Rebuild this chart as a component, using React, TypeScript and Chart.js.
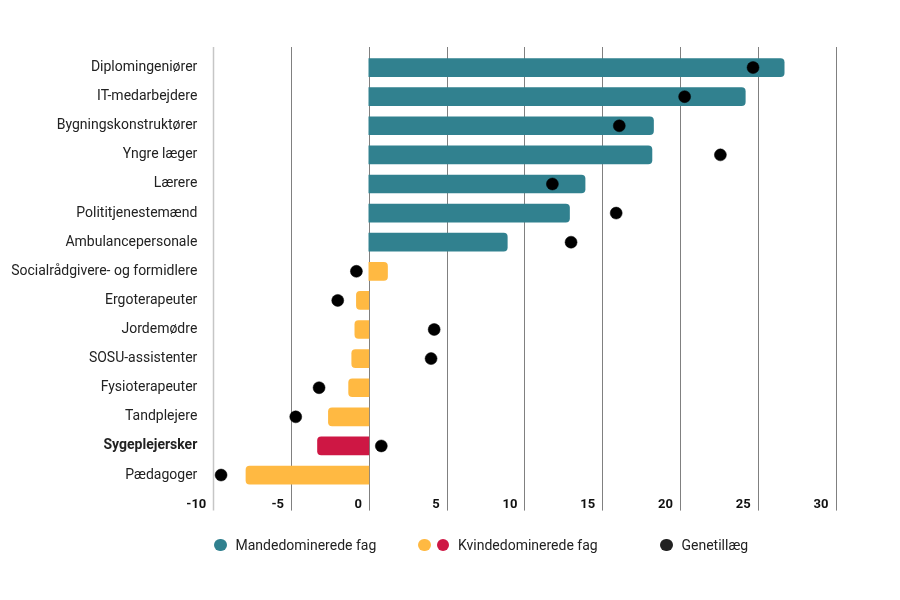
import React, { useEffect, useRef } from "react";
import { Chart, registerables } from "chart.js";

Chart.register(...registerables);

const categories = [
  "Diplomingeniører",
  "IT-medarbejdere",
  "Bygningskonstruktører",
  "Yngre læger",
  "Lærere",
  "Polititjenestemænd",
  "Ambulancepersonale",
  "Socialrådgivere- og formidlere",
  "Ergoterapeuter",
  "Jordemødre",
  "SOSU-assistenter",
  "Fysioterapeuter",
  "Tandplejere",
  "Sygeplejersker",
  "Pædagoger",
];

// group: m = mandedomineret, k = kvindedomineret, s = sygeplejersker (highlighted)
const groups = ["m", "m", "m", "m", "m", "m", "m", "k", "k", "k", "k", "k", "k", "s", "k"];

const barValues = [26.7, 24.2, 18.3, 18.2, 13.9, 12.9, 8.9, 1.2, -0.8, -0.9, -1.1, -1.3, -2.6, -3.3, -7.9];

const genetillaeg = [24.7, 20.3, 16.1, 22.6, 11.8, 15.9, 13.0, -0.8, -2.0, 4.2, 4.0, -3.2, -4.7, 0.8, -9.5];

const xTickValues = [-10, -5, 0, 5, 10, 15, 20, 25, 30];

const boldCategory = "Sygeplejersker";

const legendItems = [
  { label: "Mandedominerede fag", colors: ["#31818f"] },
  { label: "Kvindedominerede fag", colors: ["#ffb942", "#ce1744"] },
  { label: "Genetillæg", colors: ["#222222"] },
];

const colorFor: Record<string, string> = {
  m: "#31818f",
  k: "#ffb942",
  s: "#ce1744",
};

const FONT = "Roboto, 'Noto Sans', sans-serif";

const gridPlugin = {
  id: "customGrid",
  beforeDatasetsDraw(chart: any) {
    const { ctx, chartArea, scales } = chart;
    const x = scales.x;
    ctx.save();
    xTickValues.forEach((v, i) => {
      const px = Math.round(x.getPixelForValue(v)) + 0.5;
      ctx.strokeStyle = i === 0 ? "#c6c6c6" : "#808080";
      ctx.lineWidth = i === 0 ? 1.5 : 1;
      ctx.beginPath();
      ctx.moveTo(px, chartArea.top - 6);
      ctx.lineTo(px, chartArea.bottom + 21);
      ctx.stroke();
    });
    ctx.restore();
  },
};

export default function App() {
  const canvasRef = useRef<HTMLCanvasElement | null>(null);

  useEffect(() => {
    if (!canvasRef.current) return;
    const chart = new Chart(canvasRef.current, {
      type: "bar",
      data: {
        labels: categories,
        datasets: [
          {
            type: "line",
            label: "Genetillæg",
            data: genetillaeg,
            indexAxis: "y",
            showLine: false,
            pointRadius: 6,
            pointHoverRadius: 6,
            pointBackgroundColor: "#000000",
            pointBorderColor: "#000000",
            pointBorderWidth: 0.5,
            order: 0,
          } as any,
          {
            type: "bar",
            label: "Fag",
            data: barValues,
            backgroundColor: groups.map((g) => colorFor[g]),
            borderWidth: 0,
            borderRadius: 4,
            borderSkipped: "start",
            barThickness: 18,
            order: 1,
          } as any,
        ],
      },
      options: {
        indexAxis: "y",
        responsive: false,
        animation: false,
        devicePixelRatio: 1,
        layout: {
          padding: { top: 53, right: 64.5, left: 0, bottom: 80.4 },
        },
        plugins: {
          legend: { display: false },
          tooltip: { enabled: false },
        },
        scales: {
          x: {
            type: "linear",
            min: -10,
            max: 30,
            afterBuildTicks: (scale: any) => {
              scale.ticks = xTickValues.map((v) => ({ value: v }));
            },
            afterFit: (scale: any) => {
              scale.height = 30;
            },
            grid: { display: false, drawTicks: false },
            border: { display: false },
            ticks: {
              align: "end",
              labelOffset: -7,
              padding: 7,
              color: "#111111",
              font: { family: FONT, size: 13, weight: "bold" },
              maxRotation: 0,
            },
          },
          y: {
            type: "category",
            afterFit: (scale: any) => {
              scale.width = 213.3;
            },
            grid: { display: false, drawTicks: false },
            border: { display: false },
            ticks: {
              padding: 16,
              color: "#222222",
              font: (ctx: any) => ({
                family: FONT,
                size: 14,
                weight: categories[ctx.index] === boldCategory ? "bold" : "normal",
              }),
            },
          },
        },
      },
      plugins: [gridPlugin],
    });
    return () => chart.destroy();
  }, []);

  const legendX = [214, 418, 660];

  return (
    <div
      style={{
        position: "absolute",
        left: 0,
        top: 0,
        width: 900,
        height: 600,
        background: "#ffffff",
        overflow: "hidden",
      }}
    >
      <canvas ref={canvasRef} width={900} height={600} style={{ display: "block" }} />
      {legendItems.map((item, i) => (
        <div
          key={item.label}
          style={{
            position: "absolute",
            left: legendX[i],
            top: 536,
            height: 18,
            display: "flex",
            alignItems: "center",
            fontFamily: FONT,
            fontSize: 14,
            color: "#222222",
            whiteSpace: "nowrap",
          }}
        >
          {item.colors.map((c, j) => (
            <span
              key={j}
              style={{
                display: "inline-block",
                width: 12.5,
                height: 12.5,
                borderRadius: "50%",
                background: c,
                marginRight: j === item.colors.length - 1 ? 9 : 6,
              }}
            />
          ))}
          <span>{item.label}</span>
        </div>
      ))}
    </div>
  );
}
